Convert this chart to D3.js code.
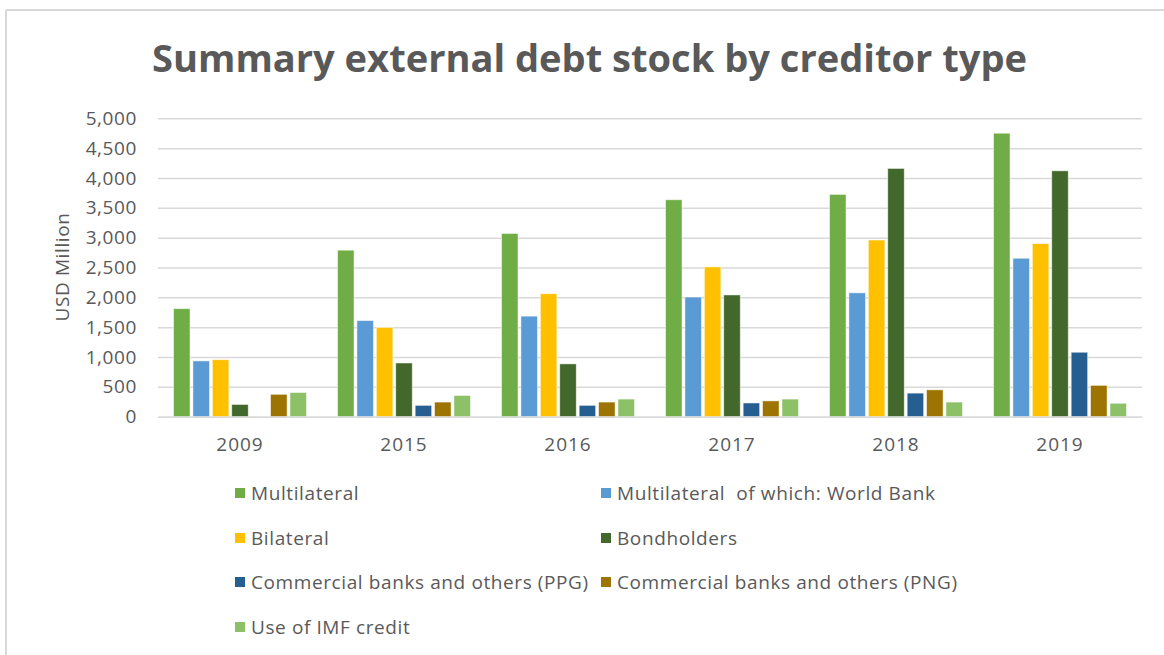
<!DOCTYPE html>
<html>
<head>
<meta charset="utf-8">
<script src="https://cdn.jsdelivr.net/npm/d3@7"></script>
<style>
  html, body { margin: 0; padding: 0; background: #ffffff; }
  svg { display: block; font-family: "Open Sans", "Noto Sans", sans-serif; }
</style>
</head>
<body>
<svg id="chart" width="1164" height="655"></svg>
<script>
// Years on the category axis
const years = ["2009", "2015", "2016", "2017", "2018", "2019"];

// External debt stock, USD million, per creditor type
const multilateral   = [1810, 2790, 3070, 3635, 3725, 4750];
const worldBank      = [935, 1610, 1685, 2005, 2075, 2655];
const bilateral      = [955, 1495, 2060, 2510, 2960, 2900];
const bondholders    = [205, 900, 885, 2040, 4160, 4120];
const commercialPPG  = [0, 190, 190, 230, 395, 1080];
const commercialPNG  = [375, 245, 245, 265, 450, 525];
const imfCredit      = [405, 355, 295, 295, 245, 225];

const yTicks = [0, 500, 1000, 1500, 2000, 2500, 3000, 3500, 4000, 4500, 5000];

const seriesNames = [
  "Multilateral",
  "Multilateral  of which: World Bank",
  "Bilateral",
  "Bondholders",
  "Commercial banks and others (PPG)",
  "Commercial banks and others (PNG)",
  "Use of IMF credit"
];
const seriesValues = [multilateral, worldBank, bilateral, bondholders, commercialPPG, commercialPNG, imfCredit];
const seriesColors = ["#70AD47", "#5B9BD5", "#FFC000", "#43682B", "#255E91", "#9E7400", "#8CC168"];

const series = seriesNames.map((name, i) => ({ name, values: seriesValues[i], color: seriesColors[i] }));

const svg = d3.select("#chart");
const textColor = "#595959";
const gridColor = "#d9d9d9";
const labelSize = 19;
const labelSpacing = "0.6px";

// Outer chart frame (top and left edges)
svg.append("line").attr("x1", 6).attr("x2", 1164).attr("y1", 10).attr("y2", 10)
  .attr("stroke", gridColor).attr("stroke-width", 2);
svg.append("line").attr("x1", 6).attr("x2", 6).attr("y1", 10).attr("y2", 655)
  .attr("stroke", gridColor).attr("stroke-width", 2);

// Title
svg.append("text")
  .attr("x", 152).attr("y", 72)
  .attr("textLength", 875).attr("lengthAdjust", "spacingAndGlyphs")
  .attr("font-size", 37).attr("font-weight", 700).attr("fill", textColor)
  .text("Summary external debt stock by creditor type");

// Scales
const plotLeft = 158, plotRight = 1142, plotTop = 118.3, plotBottom = 416.7;
const x = d3.scaleBand().domain(years).range([plotLeft, plotRight]).paddingInner(0).paddingOuter(0);
const xInner = d3.scaleBand().domain(d3.range(series.length)).range([0, x.bandwidth()])
  .paddingInner(0.15).paddingOuter(0.8);
const y = d3.scaleLinear().domain([0, 5000]).range([plotBottom, plotTop]);

// Gridlines and tick labels
const yAxis = d3.axisLeft(y).tickValues(yTicks).tickFormat(d3.format(",")).tickSize(0).tickPadding(0);
const gy = svg.append("g").attr("transform", `translate(${plotLeft},0)`).call(yAxis);
gy.select(".domain").remove();
gy.selectAll(".tick line")
  .attr("x2", plotRight - plotLeft)
  .attr("stroke", gridColor).attr("stroke-width", 1.5);
gy.selectAll(".tick text")
  .attr("x", -21)
  .attr("font-size", labelSize).attr("fill", textColor)
  .attr("letter-spacing", labelSpacing)
  .attr("font-family", "'Open Sans', 'Noto Sans', sans-serif");

// Y axis title
svg.append("text")
  .attr("transform", `translate(69,267) rotate(-90)`)
  .attr("text-anchor", "middle")
  .attr("font-size", labelSize).attr("fill", textColor)
  .attr("letter-spacing", labelSpacing)
  .text("USD Million");

// Bars
const groups = svg.append("g").selectAll("g")
  .data(years)
  .join("g")
  .attr("transform", d => `translate(${x(d)},0)`);

groups.selectAll("rect")
  .data((yr, yi) => series.map((s, si) => ({ si, value: s.values[yi], color: s.color })))
  .join("rect")
  .filter(d => d.value > 0)
  .attr("x", d => xInner(d.si))
  .attr("width", xInner.bandwidth())
  .attr("y", d => y(d.value))
  .attr("height", d => y(0) - y(d.value))
  .attr("fill", d => d.color)
  .attr("stroke", "#ffffff").attr("stroke-opacity", 0.6).attr("stroke-width", 0.8);

// Category axis
const xAxis = d3.axisBottom(x).tickSize(0).tickPadding(0);
const gx = svg.append("g").attr("transform", `translate(0,${plotBottom})`).call(xAxis);
gx.select(".domain").attr("stroke", gridColor).attr("stroke-width", 1.5);
gx.selectAll(".tick text")
  .attr("dy", 0).attr("y", 34)
  .attr("font-size", labelSize).attr("fill", textColor)
  .attr("letter-spacing", "1px")
  .attr("font-family", "'Open Sans', 'Noto Sans', sans-serif");

// Legend in two columns
const legendCols = [235, 601];
const legendRows = [493, 538, 582, 627];
const legend = svg.append("g").selectAll("g")
  .data(series)
  .join("g")
  .attr("transform", (d, i) => `translate(${legendCols[i % 2]},${legendRows[Math.floor(i / 2)]})`);
legend.append("rect")
  .attr("x", 0).attr("y", -5).attr("width", 10).attr("height", 10)
  .attr("fill", d => d.color);
legend.append("text")
  .attr("x", 16).attr("y", 0).attr("dy", "0.35em")
  .attr("font-size", labelSize).attr("fill", textColor)
  .attr("letter-spacing", labelSpacing)
  .attr("xml:space", "preserve")
  .style("white-space", "pre")
  .text(d => d.name);
</script>
</body>
</html>
